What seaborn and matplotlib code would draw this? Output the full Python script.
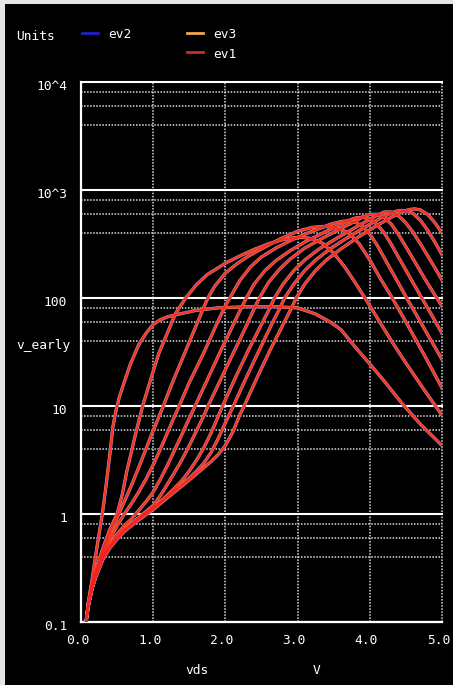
import matplotlib
matplotlib.use("Agg")
import matplotlib.pyplot as plt
from matplotlib.lines import Line2D
from matplotlib.patches import Rectangle
from matplotlib.ticker import NullFormatter
from matplotlib.transforms import ScaledTranslation
import pandas as pd
import seaborn as sns

# ---- Early voltage versus drain voltage, one curve per gate bias ----
vds_1 = [0.07, 0.1, 0.15, 0.2, 0.25, 0.3, 0.35, 0.4, 0.44, 0.48, 0.53, 0.59, 0.68, 0.8, 0.9, 1.0, 1.1,
         1.2, 1.4, 1.6, 1.9, 2.3, 2.7, 3.0, 3.25, 3.45, 3.6, 3.8, 4.0, 4.2, 4.45, 4.7, 5.0]
v_early_1 = [0.1, 0.15, 0.24, 0.4, 0.65, 1.05, 1.9, 3.6, 6.3, 8.8, 12, 16, 24, 37, 47, 57, 63,
             67, 72, 77, 81, 83, 83, 81, 71, 60, 51, 35, 24.5, 17, 10.5, 6.8, 4.3]

vds_2 = [0.07, 0.1, 0.15, 0.2, 0.25, 0.33, 0.4, 0.5, 0.57, 0.635, 0.7, 0.75, 0.8, 0.85, 0.92, 1.0, 1.08,
         1.2, 1.31, 1.45, 1.6, 1.75, 2.0, 2.2, 2.4, 2.6, 2.8, 2.95, 3.05, 3.2, 3.35, 3.5, 3.65, 3.8,
         3.95, 4.1, 4.3, 4.5, 4.75, 5.0]
v_early_2 = [0.1, 0.15, 0.22, 0.3, 0.38, 0.54, 0.72, 1.0, 1.5, 2.5, 3.8, 5.3, 7.2, 9.8, 14, 21, 31,
             48, 72, 100, 133, 165, 210, 245, 282, 318, 348, 362, 365, 355, 320, 260, 195, 138,
             96, 66, 40, 25, 14.2, 8.2]

vds_3 = [0.07, 0.1, 0.15, 0.2, 0.3, 0.4, 0.5, 0.6, 0.7, 0.8, 0.9, 0.98, 1.06, 1.14, 1.25, 1.4, 1.55,
         1.65, 1.75, 1.85, 2.0, 2.15, 2.3, 2.5, 2.75, 3.0, 3.2, 3.35, 3.5, 3.7, 3.85, 4.0, 4.15,
         4.3, 4.5, 4.75, 5.0]
v_early_3 = [0.1, 0.14, 0.21, 0.28, 0.45, 0.65, 0.92, 1.3, 1.85, 2.7, 4.0, 5.5, 7.4, 10, 15.5, 27, 47,
             68, 98, 128, 170, 205, 240, 285, 350, 415, 450, 460, 452, 405, 320, 225, 150,
             103, 60, 30, 14.7]

vds_4 = [0.07, 0.1, 0.15, 0.2, 0.3, 0.4, 0.5, 0.6, 0.7, 0.8, 0.9, 1.0, 1.1, 1.2, 1.28, 1.36, 1.5,
         1.7, 1.85, 2.0, 2.06, 2.2, 2.35, 2.5, 2.7, 2.9, 3.1, 3.3, 3.45, 3.6, 3.7, 3.8, 3.9, 4.0,
         4.1, 4.25, 4.4, 4.51, 4.65, 4.8, 5.0]
v_early_4 = [0.1, 0.14, 0.2, 0.27, 0.42, 0.58, 0.78, 1.0, 1.25, 1.6, 2.1, 2.85, 4.0, 5.7, 7.6, 10, 16.5,
             31, 52, 85, 100, 145, 195, 240, 290, 340, 390, 440, 480, 510, 518, 505, 460, 390,
             310, 205, 136, 100, 69, 46, 27]

vds_5 = [0.07, 0.1, 0.15, 0.2, 0.3, 0.4, 0.5, 0.6, 0.7, 0.8, 0.9, 1.0, 1.1, 1.2, 1.3, 1.4, 1.5, 1.58,
         1.75, 1.94, 2.1, 2.2, 2.29, 2.4, 2.55, 2.7, 2.9, 3.1, 3.35, 3.6, 3.7, 3.8, 3.9, 4.0, 4.1,
         4.2, 4.3, 4.4, 4.5, 4.6, 4.72, 4.85, 5.0]
v_early_5 = [0.1, 0.14, 0.2, 0.27, 0.4, 0.52, 0.65, 0.78, 0.9, 1.08, 1.3, 1.6, 2.1, 2.85, 3.95, 5.5, 7.7, 10,
             17.5, 33, 55, 76, 100, 135, 180, 222, 275, 330, 400, 480, 520, 550, 560, 540, 480,
             400, 312, 237, 181, 138, 100, 71, 47]

vds_6 = [0.07, 0.1, 0.15, 0.2, 0.3, 0.4, 0.5, 0.6, 0.8, 1.0, 1.1, 1.2, 1.3, 1.4, 1.5, 1.6, 1.7, 1.76,
         1.95, 2.12, 2.3, 2.38, 2.47, 2.6, 2.75, 2.9, 3.1, 3.35, 3.6, 3.8, 3.9, 4.0, 4.1, 4.2, 4.3,
         4.4, 4.5, 4.6, 4.7, 4.8, 4.9, 5.0]
v_early_6 = [0.1, 0.14, 0.2, 0.265, 0.39, 0.5, 0.61, 0.72, 0.93, 1.2, 1.48, 1.9, 2.45, 3.2, 4.3, 5.9, 8.1, 10,
             18.5, 32, 57, 75, 100, 140, 185, 230, 290, 360, 440, 515, 560, 595, 595, 560, 480,
             385, 298, 230, 177, 137, 107, 84]

vds_7 = [0.07, 0.1, 0.15, 0.2, 0.3, 0.4, 0.5, 0.6, 0.8, 1.0, 1.1, 1.2, 1.3, 1.4, 1.5, 1.6, 1.7, 1.8,
         1.9, 1.96, 2.15, 2.32, 2.5, 2.6, 2.68, 2.8, 2.95, 3.1, 3.3, 3.55, 3.8, 4.0, 4.1, 4.2, 4.3,
         4.4, 4.5, 4.6, 4.7, 4.8, 4.9, 5.0]
v_early_7 = [0.1, 0.14, 0.2, 0.26, 0.385, 0.495, 0.6, 0.71, 0.91, 1.15, 1.3, 1.5, 1.75, 2.05, 2.5, 3.15, 4.1, 5.6,
             8.0, 10, 19, 33, 57, 77, 100, 135, 180, 225, 285, 360, 450, 535, 585, 625, 625,
             575, 495, 405, 318, 247, 191, 147]

vds_8 = [0.07, 0.1, 0.15, 0.2, 0.3, 0.4, 0.5, 0.6, 0.8, 1.0, 1.2, 1.4, 1.5, 1.6, 1.7, 1.8, 1.9, 2.0,
         2.11, 2.3, 2.47, 2.64, 2.74, 2.82, 2.95, 3.1, 3.25, 3.45, 3.7, 3.95, 4.15, 4.3, 4.4, 4.5,
         4.6, 4.7, 4.8, 4.9, 5.0]
v_early_8 = [0.1, 0.14, 0.2, 0.26, 0.38, 0.49, 0.595, 0.7, 0.9, 1.13, 1.46, 1.88, 2.15, 2.5, 2.95, 3.7, 5.0, 7.0,
             10, 19, 33, 57, 77, 100, 135, 180, 225, 285, 365, 460, 550, 615, 645, 645,
             605, 525, 425, 330, 252]

vds_9 = [0.07, 0.1, 0.15, 0.2, 0.3, 0.4, 0.5, 0.6, 0.8, 1.0, 1.2, 1.4, 1.6, 1.8, 1.9, 2.0, 2.1, 2.2,
         2.26, 2.45, 2.62, 2.8, 2.9, 2.98, 3.1, 3.25, 3.4, 3.6, 3.85, 4.1, 4.3, 4.45, 4.55, 4.62,
         4.7, 4.8, 4.9, 5.0]
v_early_9 = [0.1, 0.14, 0.2, 0.255, 0.375, 0.485, 0.585, 0.69, 0.88, 1.1, 1.42, 1.82, 2.35, 3.05, 3.55, 4.3, 5.7, 8.3,
             10, 19, 33, 57, 77, 100, 135, 180, 225, 285, 370, 470, 560, 630, 660, 668,
             655, 595, 500, 400]

series_names = ["ev2", "ev3", "ev1"]
series_colors = {"ev2": "#2a2ae0", "ev3": "#f4a44c", "ev1": "#f02420"}
legend_colors = {"ev2": "#2020c8", "ev3": "#f0a850", "ev1": "#d02a2a"}

x_ticks = [0, 1, 2, 3, 4, 5]
x_tick_labels = ["0.0", "1.0", "2.0", "3.0", "4.0", "5.0"]
y_ticks = [0.1, 1, 10, 100, 1000, 10000]
y_tick_labels = ["0.1", "1", "10", "100", "10^3", "10^4"]
y_minor_ticks = [m * d for d in (0.1, 1, 10, 100, 1000) for m in (4, 6, 8)]

curves = [(vds_1, v_early_1), (vds_2, v_early_2), (vds_3, v_early_3),
          (vds_4, v_early_4), (vds_5, v_early_5), (vds_6, v_early_6),
          (vds_7, v_early_7), (vds_8, v_early_8), (vds_9, v_early_9)]

rows = []
for name in series_names:
    for k, (xs, ys) in enumerate(curves, start=1):
        for xv, yv in zip(xs, ys):
            rows.append({"series": name, "curve": k, "vds": xv, "v_early": yv})
df = pd.DataFrame(rows)

plt.rcParams["font.family"] = ["DejaVu Sans Mono"]
FS = 9.3

W, H = 453, 685
fig = plt.figure(figsize=(W / 100, H / 100), dpi=100)
fig.patch.set_facecolor("#e4e4e4")
fig.add_artist(Rectangle((5 / W, 0), 1, 1 - 4 / H, transform=fig.transFigure,
                         facecolor="black", edgecolor="none", zorder=-5))

ax = fig.add_axes([81 / W, (H - 622) / H, 361 / W, 540 / H])
ax.set_facecolor("black")

# the three runs overlap almost exactly; ev1 is drawn last and slightly thinner
widths = {"ev2": 2.5, "ev3": 2.15, "ev1": 1.7}
alphas = {"ev2": 1.0, "ev3": 1.0, "ev1": 0.85}
for name in series_names:
    sns.lineplot(data=df[df["series"] == name], x="vds", y="v_early", units="curve",
                 estimator=None, sort=False, color=series_colors[name],
                 lw=widths[name], alpha=alphas[name], ax=ax, legend=False, zorder=3)

ax.set_yscale("log")
ax.set_xlim(0, 5)
ax.set_ylim(0.1, 1e4)

ax.set_xticks(x_ticks)
ax.set_xticklabels(x_tick_labels)
ax.set_yticks(y_ticks)
ax.set_yticklabels(y_tick_labels)
ax.set_yticks(y_minor_ticks, minor=True)
ax.yaxis.set_minor_formatter(NullFormatter())
ax.tick_params(which="both", length=0, colors="white", labelsize=FS)
ax.tick_params(axis="y", pad=10)
ax.tick_params(axis="x", pad=9)

dots = (0, (1, 1))
ax.yaxis.grid(True, which="major", color="white", lw=1.5, ls="-")
ax.yaxis.grid(True, which="minor", color="#dcdcdc", lw=1.1, ls=dots)
ax.xaxis.grid(True, which="major", color="#dcdcdc", lw=1.1, ls=dots)
ax.set_axisbelow(True)
for gl in ax.get_ygridlines() + ax.get_xgridlines():
    gl.set_clip_on(False)

for side in ("top", "right"):
    ax.spines[side].set_visible(False)
for side in ("left", "bottom"):
    ax.spines[side].set_color("white")
    ax.spines[side].set_linewidth(1.6)

yshift = ScaledTranslation(0, -2 / 72, fig.dpi_scale_trans)
for lbl in ax.get_yticklabels():
    lbl.set_transform(lbl.get_transform() + yshift)
xshift = ScaledTranslation(-3.5 / 100, 0, fig.dpi_scale_trans)
for lbl in ax.get_xticklabels():
    lbl.set_transform(lbl.get_transform() + xshift)

ax.set_ylabel("v_early", rotation=0, ha="right", va="center", color="white", fontsize=FS)
ax.yaxis.set_label_coords((70.5 - 81) / 361, (622 - 345) / 540)
ax.set_xlabel("vds", color="white", fontsize=FS, ha="center", va="center")
ax.xaxis.set_label_coords((197 - 81) / 361, (622 - 671) / 540)
ax.text((317 - 81) / 361, (622 - 671) / 540, "V", transform=ax.transAxes,
        color="white", fontsize=FS, ha="center", va="center")

# legend block above the plot
def fx(px):
    return px / W

def fy(py):
    return 1 - py / H

fig.text(fx(16), fy(36), "Units", color="white", fontsize=FS, ha="left", va="center")
legend_items = [("ev2", 82, 33, 108, 35), ("ev3", 187, 33, 213, 35), ("ev1", 187, 52, 213, 54)]
for name, lx, ly, tx, ty in legend_items:
    fig.add_artist(Line2D([fx(lx), fx(lx + 16)], [fy(ly), fy(ly)], transform=fig.transFigure,
                          color=legend_colors[name], lw=2.0))
    fig.text(fx(tx), fy(ty), name, color="white", fontsize=FS, ha="left", va="center")

fig.savefig("out.png", dpi=100, facecolor=fig.get_facecolor())
